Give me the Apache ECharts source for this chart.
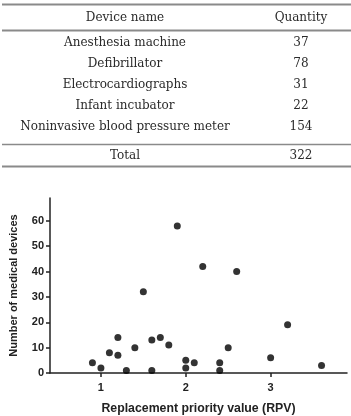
<!DOCTYPE html>
<html><head><meta charset="utf-8">
<script src="https://cdn.jsdelivr.net/npm/echarts@6/dist/echarts.min.js"></script>
<style>html,body{margin:0;padding:0;background:#fff}#c{width:351px;height:416px}</style>
</head><body><div id="c"></div>
<script>
// Table data
const headers = ['Device name', 'Quantity'];
const deviceNames = ['Anesthesia machine', 'Defibrillator', 'Electrocardiographs', 'Infant incubator', 'Noninvasive blood pressure meter'];
const quantities = [37, 78, 31, 22, 154];
const totalLabel = 'Total';
const totalValue = 322;

// Scatter data
const rpv = [0.9, 1.0, 1.1, 1.2, 1.2, 1.3, 1.4, 1.5, 1.6, 1.6, 1.7, 1.8, 1.9, 2.0, 2.0, 2.1, 2.2, 2.4, 2.4, 2.5, 2.6, 3.0, 3.2, 3.6];
const deviceCounts = [4, 2, 8, 14, 7, 1, 10, 32, 13, 1, 14, 11, 58, 5, 2, 4, 42, 4, 1, 10, 40, 6, 19, 3];
const xTicks = [1, 2, 3];
const yTicks = [0, 10, 20, 30, 40, 50, 60];

const chart = echarts.init(document.getElementById('c'));
const serif = 'DejaVu Serif';
const tFont = { fontFamily: serif, fontSize: 12, fill: '#2a2a2a' };
const col1 = 125, col2 = 301;
const graphics = [];
function txt(s, x, y) {
  graphics.push({ type: 'text', x: x, y: y, style: Object.assign({ text: String(s), align: 'center', verticalAlign: 'middle' }, tFont) });
}
function hline(y, w) {
  graphics.push({ type: 'line', shape: { x1: 2, y1: y, x2: 351, y2: y }, style: { stroke: '#8a8a8a', lineWidth: w } });
}
hline(4.5, 2); hline(30.5, 2); hline(144.5, 1.5); hline(166.5, 2);
txt(headers[0], col1, 18); txt(headers[1], col2, 18);
deviceNames.forEach((n, i) => { txt(n, col1, 43 + i * 21); txt(quantities[i], col2, 43 + i * 21); });
txt(totalLabel, col1, 156); txt(totalValue, col2, 156);

const axisFont = { fontFamily: 'Liberation Sans', fontWeight: 'bold', fontSize: 11, color: '#222' };
chart.setOption({
  animation: false,
  graphic: graphics,
  grid: { left: 49, right: 4, top: 198, bottom: 40, containLabel: false },
  xAxis: {
    type: 'value', min: 0.4, max: 3.9,
    name: 'Replacement priority value (RPV)', nameLocation: 'middle', nameGap: 30,
    nameTextStyle: Object.assign({}, axisFont, { fontSize: 12.3 }),
    axisLine: { show: true, lineStyle: { color: '#222', width: 1.5 } },
    axisTick: { show: true, length: 4, lineStyle: { color: '#222', width: 1.5 }, customValues: xTicks },
    axisLabel: Object.assign({ customValues: xTicks, margin: 9 }, axisFont),
    splitLine: { show: false }
  },
  yAxis: {
    type: 'value', min: 0, max: 69,
    name: 'Number of medical devices', nameLocation: 'middle', nameGap: 31,
    nameTextStyle: Object.assign({}, axisFont, { fontSize: 11 }),
    axisLine: { show: true, lineStyle: { color: '#222', width: 1.5 } },
    axisTick: { show: true, length: 4, lineStyle: { color: '#222', width: 1.5 }, customValues: yTicks },
    axisLabel: Object.assign({ customValues: yTicks, margin: 6 }, axisFont),
    splitLine: { show: false }
  },
  series: [{
    type: 'scatter',
    symbolSize: 7,
    itemStyle: { color: '#000' },
    data: rpv.map((x, i) => [x, deviceCounts[i]])
  }]
});
</script></body></html>
